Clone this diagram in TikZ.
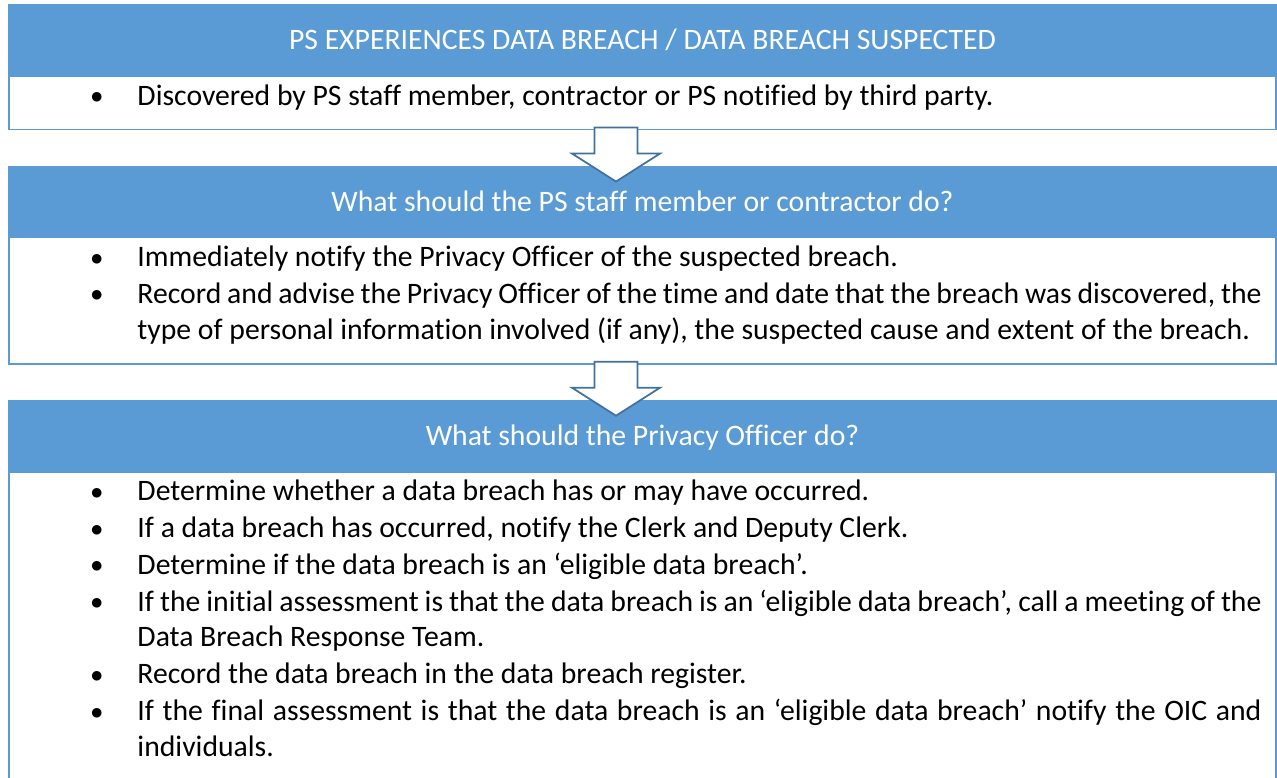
\documentclass[tikz,border=0pt]{standalone}
\usepackage{fontspec}
\setmainfont{Carlito}[Ligatures={NoCommon}]
\usetikzlibrary{positioning,calc}
\definecolor{hdblue}{HTML}{5B9BD5}
\definecolor{arblue}{HTML}{41719C}
\newcommand{\bpt}{\noindent\hangindent=47pt\hangafter=1\makebox[47pt][l]{\raisebox{1.5pt}{$\bullet$}}\strut}

\begin{document}
\begin{tikzpicture}[x=1pt,y=-1pt,
	headbox/.style={rectangle, fill=hdblue, draw=hdblue, line width=1.75pt, text=white, minimum width=1267pt, minimum height=71pt, inner sep=0pt, outer sep=0pt, text height=19pt, text depth=0pt, font=\fontsize{29.7}{35.8}\selectfont},
	bodybox/.style={rectangle, draw=hdblue, fill=white, line width=1.75pt, text width=1267pt, inner xsep=0pt, inner ysep=4pt, outer sep=0pt, align=justify, font=\fontsize{29.7}{35.8}\selectfont,
		execute at begin node={\leftskip=81.5pt\rightskip=14.5pt\parskip=1pt\parindent=0pt\hyphenpenalty=10000\exhyphenpenalty=10000}},
	downarrow/.style={draw=arblue, fill=white, line width=1.75pt, line join=miter}]
		\useasboundingbox (0,0) rectangle (1277,778);
		\clip (0,0) rectangle (1277,778);
		\node[headbox, anchor=north west] (h1) at (9,5) {PS EXPERIENCES DATA BREACH / DATA BREACH SUSPECTED};
		\node[bodybox, below=0pt of h1] (b1) {\bpt Discovered by PS staff member, contractor or PS notified by third party.\rule[-20.5pt]{0pt}{20.5pt}\par};
		\node[headbox, below=37pt of b1] (h2) {What should the PS staff member or contractor do?};
		\node[bodybox, below=0pt of h2] (b2) {\bpt Immediately notify the Privacy Officer of the suspected breach.\par
			\bpt Record and advise the Privacy Officer of the time and date that the breach was discovered, the type of personal information involved (if any), the suspected cause and extent of the breach.\rule[-20.5pt]{0pt}{20.5pt}\par};
		\node[headbox, below=37pt of b2] (h3) {What should the Privacy Officer do?};
		\node[bodybox, below=0pt of h3] (b3) {\bpt Determine whether a data breach has or may have occurred.\par
			\bpt If a data breach has occurred, notify the Clerk and Deputy Clerk.\par
			\bpt Determine if the data breach is an ‘eligible data breach’.\par
			\bpt If the initial assessment is that the data breach is an ‘eligible data breach’, call a meeting of the Data Breach Response Team.\par
			\bpt Record the data breach in the data breach register.\par
			\bpt If the final assessment is that the data breach is an ‘eligible data breach’ notify the OIC and individuals.\rule[-40pt]{0pt}{40pt}\par};
		\foreach \b in {b1,b2}
			\draw[downarrow] ($(\b.south)+(-48,-2)$) -- ++(0,26) -- ++(-22.5,0) -- ++(44,28) -- ++(44,-28) -- ++(-22.5,0) -- ++(0,-26) -- cycle;
\end{tikzpicture}
\end{document}
